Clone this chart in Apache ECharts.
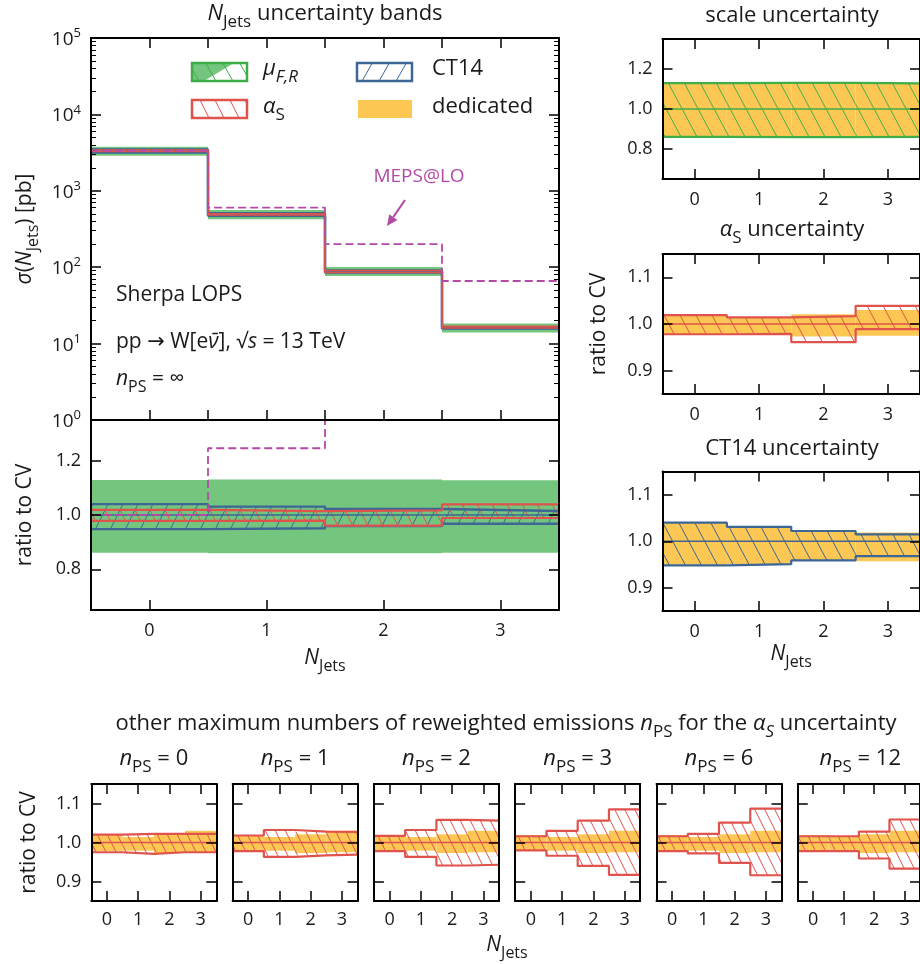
<!DOCTYPE html>
<html>
<head>
<meta charset="utf-8">
<script src="https://cdn.jsdelivr.net/npm/echarts@6/dist/echarts.min.js"></script>
<style>
  html, body { margin: 0; padding: 0; background: #fff; }
  #chart { width: 920px; height: 964px; }
</style>
</head>
<body>
<div id="chart"></div>
<script>
// ---- data ----
var nJets = [0, 1, 2, 3];
var binEdges = [-0.5, 0.5, 1.5, 2.5, 3.5];

// cross sections [pb]
var xsecCV = [3350, 494, 89, 16.2];
var xsecMEPS = [3350, 604, 200, 66];

// ratios to CV (n_PS = infinity)
var scaleUp = [1.129, 1.131, 1.131, 1.128];
var scaleDn = [0.861, 0.859, 0.859, 0.861];
var alphaUp = [1.019, 1.014, 1.017, 1.039];
var alphaDn = [0.978, 0.979, 0.961, 0.989];
var ct14Up = [1.040, 1.031, 1.022, 1.015];
var ct14Dn = [0.948, 0.951, 0.959, 0.968];
var mepsRatio = [1.0, 1.246, 2.25, 4.1];

// dedicated variations
var dedScaleUp = [1.129, 1.131, 1.131, 1.128];
var dedScaleDn = [0.861, 0.859, 0.859, 0.861];
var dedAlphaUp = [1.019, 1.014, 1.021, 1.030];
var dedAlphaDn = [0.978, 0.979, 0.973, 0.975];
var dedCt14Up = [1.040, 1.031, 1.022, 1.019];
var dedCt14Dn = [0.948, 0.951, 0.959, 0.957];

// alpha_S bands for other n_PS
var nPSValues = ['0', '1', '2', '3', '6', '12'];
var alphaUpNPS0 = [1.020, 1.022, 1.022, 1.022];
var alphaDnNPS0 = [0.975, 0.971, 0.975, 0.975];
var alphaUpNPS1 = [1.018, 1.032, 1.028, 1.027];
var alphaDnNPS1 = [0.978, 0.963, 0.967, 0.969];
var alphaUpNPS2 = [1.017, 1.032, 1.058, 1.056];
var alphaDnNPS2 = [0.978, 0.963, 0.941, 0.943];
var alphaUpNPS3 = [1.016, 1.030, 1.056, 1.085];
var alphaDnNPS3 = [0.980, 0.966, 0.940, 0.917];
var alphaUpNPS6 = [1.016, 1.022, 1.051, 1.087];
var alphaDnNPS6 = [0.978, 0.972, 0.948, 0.916];
var alphaUpNPS12 = [1.016, 1.016, 1.028, 1.059];
var alphaDnNPS12 = [0.978, 0.978, 0.959, 0.933];

// tick labels
var ratioTicksWide = [0.8, 1.0, 1.2];
var ratioTicksNarrow = [0.9, 1.0, 1.1];

// ---- style ----
var FONT = '"Open Sans", "DejaVu Sans", sans-serif';
var TXT = '#1a1a1a';
var GREEN = '#3fae49', GREEN_FILL = '#74c67f', RED = '#e0524c', BLUE = '#3d6596';
var YELLOW = '#fcc853', PURPLE = '#b34aa5';
var TICK_FS = 18;

function hatch(color, w, h, dir) {
  var c = document.createElement('canvas');
  c.width = w; c.height = h;
  var ctx = c.getContext('2d');
  ctx.strokeStyle = color;
  ctx.lineWidth = 1;
  for (var k = -1; k <= 1; k++) {
    ctx.beginPath();
    if (dir === '\\') { ctx.moveTo(k * w, 0); ctx.lineTo(k * w + w, h); }
    else { ctx.moveTo(k * w, h); ctx.lineTo(k * w + w, 0); }
    ctx.stroke();
  }
  return { image: c, repeat: 'repeat' };
}

function rich(fs, color) {
  color = color || TXT;
  var up = Math.round(fs * 0.25);
  var sfs = Math.round(fs * 0.76);
  return {
    n: { fontFamily: FONT, fontSize: fs, color: color, padding: [0, 0, up, 0], verticalAlign: 'bottom' },
    i: { fontFamily: FONT, fontSize: fs, fontStyle: 'italic', color: color, padding: [0, 0, up, 0], verticalAlign: 'bottom' },
    sub: { fontFamily: FONT, fontSize: sfs, color: color, verticalAlign: 'bottom' },
    subi: { fontFamily: FONT, fontSize: sfs, fontStyle: 'italic', color: color, verticalAlign: 'bottom' }
  };
}

// ---- grids ----
var grids = [
  { left: 91, top: 38, width: 468, height: 382 },       // 0 cross section
  { left: 91, top: 420, width: 468, height: 190 },      // 1 ratio
  { left: 662.5, top: 39, width: 260, height: 140 },    // 2 scale
  { left: 662.5, top: 254, width: 260, height: 140 },   // 3 alpha_S
  { left: 662.5, top: 471.5, width: 260, height: 139.5 } // 4 CT14
];
for (var k = 0; k < 6; k++) {
  grids.push({ left: 91.3 + k * 141.3, top: 784, width: 125, height: 117 });
}

var xAxes = [], yAxes = [], series = [];

function axisBase(gi, pos) {
  return {
    gridIndex: gi, position: pos, z: 10,
    axisLine: { show: true, onZero: false, lineStyle: { color: '#000', width: 2 } },
    axisTick: { show: true, inside: true, length: 10, lineStyle: { color: '#000', width: 1.5 } },
    axisLabel: { show: false, fontFamily: FONT, fontSize: TICK_FS, color: TXT },
    splitLine: { show: false }
  };
}

function addAxes(gi, o) {
  ['bottom', 'top'].forEach(function (pos) {
    var a = axisBase(gi, pos);
    a.type = 'value'; a.min = -0.5; a.max = 3.5;
    if (o.halfTicks) {
      a.interval = 0.5;
    } else {
      a.axisTick.customValues = nJets;
      a.axisLabel.customValues = nJets;
    }
    if (pos === 'top' && o.noTopTicks) a.axisTick.show = false;
    if (pos === 'bottom' && o.xLabels) { a.axisLabel.show = true; a.axisLabel.margin = o.xMargin || 12; }
    if (pos === 'bottom' && o.xName) {
      a.name = '{i|N}{sub|Jets}';
      a.nameLocation = 'middle';
      a.nameGap = o.xNameGap;
      a.nameTextStyle = { rich: rich(21) };
    }
    xAxes.push(a);
  });
  ['left', 'right'].forEach(function (pos) {
    var a = axisBase(gi, pos);
    a.min = o.yMin; a.max = o.yMax;
    if (o.log) {
      a.type = 'log'; a.logBase = 10; a.splitNumber = 5;
      a.minorTick = { show: true, splitNumber: 9, length: 5, lineStyle: { color: '#000', width: 1 } };
      a.axisLabel.formatter = function (v) { return '{b|10}{s|' + Math.round(Math.log10(v)) + '}'; };
      a.axisLabel.rich = {
        b: { fontFamily: FONT, fontSize: 19, color: TXT, verticalAlign: 'bottom' },
        s: { fontFamily: FONT, fontSize: 13, color: TXT, padding: [0, 0, 9, 0], verticalAlign: 'bottom' }
      };
    } else {
      a.type = 'value';
      a.axisTick.customValues = o.yTicks;
      a.axisLabel.customValues = o.yTicks;
      a.axisLabel.formatter = function (v) { return v.toFixed(1); };
    }
    if (pos === 'left' && o.yLabels) { a.axisLabel.show = true; a.axisLabel.margin = 10; }
    if (pos === 'left' && o.yName) {
      a.name = o.yName;
      a.nameLocation = 'middle';
      a.nameGap = o.yNameGap;
      a.nameTextStyle = { fontFamily: FONT, fontSize: 21, color: TXT, rich: rich(21) };
    }
    yAxes.push(a);
  });
}

addAxes(0, { halfTicks: true, log: true, yMin: 1, yMax: 100000, yLabels: true,
  yName: '{i|σ}{n|(}{i|N}{sub|Jets}{n|) [pb]}', yNameGap: 50 });
addAxes(1, { noTopTicks: true, xLabels: true, xName: true, xNameGap: 38, yMin: 0.65, yMax: 1.35,
  yTicks: ratioTicksWide, yLabels: true, yName: '{n|ratio to CV}', yNameGap: 50 });
addAxes(2, { xLabels: true, yMin: 0.65, yMax: 1.35, yTicks: ratioTicksWide, yLabels: true });
addAxes(3, { xLabels: true, yMin: 0.85, yMax: 1.15, yTicks: ratioTicksNarrow, yLabels: true,
  yName: '{n|ratio to CV}', yNameGap: 48 });
addAxes(4, { xLabels: true, xName: true, xNameGap: 33, yMin: 0.85, yMax: 1.15, yTicks: ratioTicksNarrow, yLabels: true });
for (var k = 0; k < 6; k++) {
  addAxes(5 + k, { xLabels: true, xMargin: 10, yMin: 0.85, yMax: 1.15, yTicks: ratioTicksNarrow, yLabels: k === 0,
    yName: k === 0 ? '{n|ratio to CV}' : null, yNameGap: 47 });
}

// ---- series builders ----
function bandSeries(gi, up, dn, fill, base) {
  return {
    type: 'custom', xAxisIndex: 2 * gi, yAxisIndex: 2 * gi, silent: true, clip: true,
    data: nJets.map(function (x, i) {
      var b = base ? base[i] : 1;
      return [x, dn[i] * b, up[i] * b];
    }),
    renderItem: function (params, api) {
      var x = api.value(0);
      var p1 = api.coord([x - 0.5, api.value(2)]);
      var p2 = api.coord([x + 0.5, api.value(1)]);
      return {
        type: 'rect',
        shape: { x: p1[0], y: p1[1], width: p2[0] - p1[0], height: p2[1] - p1[1] },
        style: { fill: fill, stroke: null }
      };
    }
  };
}

function stepSeries(gi, vals, color, width, base, dash) {
  return {
    type: 'line', xAxisIndex: 2 * gi, yAxisIndex: 2 * gi, step: 'end', symbol: 'none', silent: true,
    data: binEdges.map(function (e, i) {
      var j = Math.min(i, vals.length - 1);
      return [e, vals[j] * (base ? base[j] : 1)];
    }),
    lineStyle: { color: color, width: width, type: dash ? [8, 4] : 'solid' }
  };
}

function ratioBandSet(gi, up, dn, color, pattern, ownUp, ownDn) {
  series.push(bandSeries(gi, ownUp, ownDn, YELLOW));
  series.push(bandSeries(gi, up, dn, pattern));
  series.push(stepSeries(gi, up, color, 2.2));
  series.push(stepSeries(gi, dn, color, 2.2));
  series.push(stepSeries(gi, [1, 1, 1, 1], color, 1.5));
}

// cross-section panel
series.push(bandSeries(0, scaleUp, scaleDn, GREEN_FILL, xsecCV));
series.push(bandSeries(0, ct14Up, ct14Dn, hatch(BLUE, 15, 30, '/'), xsecCV));
series.push(bandSeries(0, alphaUp, alphaDn, hatch(RED, 15, 30, '\\'), xsecCV));
series.push(stepSeries(0, ct14Up, BLUE, 2.4, xsecCV));
series.push(stepSeries(0, ct14Dn, BLUE, 2.4, xsecCV));
series.push(stepSeries(0, alphaUp, RED, 1.5, xsecCV));
series.push(stepSeries(0, alphaDn, RED, 1.5, xsecCV));
series.push(stepSeries(0, xsecMEPS, PURPLE, 1.8, null, true));

// ratio panel
series.push(bandSeries(1, scaleUp, scaleDn, GREEN_FILL));
series.push(bandSeries(1, ct14Up, ct14Dn, hatch(BLUE, 15, 30, '/')));
series.push(bandSeries(1, alphaUp, alphaDn, hatch(RED, 15, 30, '\\')));
series.push(stepSeries(1, ct14Up, BLUE, 2.4));
series.push(stepSeries(1, ct14Dn, BLUE, 2.4));
series.push(stepSeries(1, alphaUp, RED, 2.2));
series.push(stepSeries(1, alphaDn, RED, 2.2));
series.push(stepSeries(1, [1, 1, 1, 1], BLUE, 1.5));
series.push(stepSeries(1, mepsRatio, PURPLE, 1.8, null, true));

// right column
ratioBandSet(2, scaleUp, scaleDn, GREEN, hatch(GREEN, 16, 30, '\\'), dedScaleUp, dedScaleDn);
ratioBandSet(3, alphaUp, alphaDn, RED, hatch(RED, 16, 30, '\\'), dedAlphaUp, dedAlphaDn);
ratioBandSet(4, ct14Up, ct14Dn, BLUE, hatch(BLUE, 16, 30, '\\'), dedCt14Up, dedCt14Dn);

// other n_PS
var nPSUp = [alphaUpNPS0, alphaUpNPS1, alphaUpNPS2, alphaUpNPS3, alphaUpNPS6, alphaUpNPS12];
var nPSDn = [alphaDnNPS0, alphaDnNPS1, alphaDnNPS2, alphaDnNPS3, alphaDnNPS6, alphaDnNPS12];
for (var k = 0; k < 6; k++) {
  ratioBandSet(5 + k, nPSUp[k], nPSDn[k], RED, hatch(RED, 10, 20, '\\'), dedAlphaUp, dedAlphaDn);
}

// ---- texts and legend ----
function txt(x, y, text, fs, align, color) {
  return {
    type: 'text', x: x, y: y, z: 20, silent: true,
    style: {
      text: text, rich: rich(fs, color), fontFamily: FONT, fontSize: fs, fill: color || TXT,
      align: align || 'center', textAlign: align || 'center', verticalAlign: 'middle', textVerticalAlign: 'middle'
    }
  };
}

var graphics = [
  txt(325, 17, '{i|N}{sub|Jets}{n| uncertainty bands}', 22),
  txt(792, 19, '{n|scale uncertainty}', 22),
  txt(792, 233, '{i|α}{sub|S}{n| uncertainty}', 22),
  txt(792, 452, '{n|CT14 uncertainty}', 22),
  txt(506, 727, '{n|other maximum numbers of reweighted emissions }{i|n}{sub|PS}{n| for the }{i|α}{subi|S}{n| uncertainty}', 22),
  txt(507, 948, '{i|N}{sub|Jets}', 21),
  txt(116, 298, '{n|Sherpa LOPS}', 21, 'left'),
  txt(116, 345, '{n|pp → W[e}{i|ν̄}{n|], √}{i|s}{n| = 13 TeV}', 21, 'left'),
  txt(116, 382, '{i|n}{sub|PS}{n| = ∞}', 21, 'left'),
  txt(419, 179, '{n|MEPS@LO}', 19, 'center', PURPLE),
  // legend
  txt(263, 72, '{i|μ}{subi|F,R}', 22, 'left'),
  txt(432, 72, '{n|CT14}', 22, 'left'),
  txt(263, 110, '{i|α}{sub|S}', 22, 'left'),
  txt(432, 110, '{n|dedicated}', 22, 'left'),
  { type: 'polygon', z: 20, silent: true, shape: { points: [[192, 63], [234, 63], [204, 81], [192, 81]] }, style: { fill: GREEN_FILL } },
  { type: 'rect', z: 21, silent: true, shape: { x: 192, y: 63, width: 55, height: 18 }, style: { fill: hatch(GREEN, 17, 30, '\\'), stroke: GREEN, lineWidth: 2.5 } },
  { type: 'rect', z: 21, silent: true, shape: { x: 357, y: 63, width: 55, height: 18 }, style: { fill: hatch(BLUE, 17, 30, '/'), stroke: BLUE, lineWidth: 2.5 } },
  { type: 'rect', z: 21, silent: true, shape: { x: 192, y: 100, width: 55, height: 18 }, style: { fill: hatch(RED, 15, 30, '\\'), stroke: RED, lineWidth: 2.5 } },
  { type: 'rect', z: 21, silent: true, shape: { x: 358, y: 100, width: 54, height: 18 }, style: { fill: YELLOW } },
  // MEPS arrow
  { type: 'line', z: 20, silent: true, shape: { x1: 405, y1: 200, x2: 393.3, y2: 217 }, style: { stroke: PURPLE, lineWidth: 2.2 } },
  { type: 'polygon', z: 20, silent: true, shape: { points: [[387, 226], [397.4, 219.9], [389.2, 214.2]] }, style: { fill: PURPLE } }
];
for (var k = 0; k < 6; k++) {
  graphics.push(txt(grids[5 + k].left + 62.5, 762, '{i|n}{sub|PS}{n| = ' + nPSValues[k] + '}', 22));
}

var option = {
  animation: false,
  backgroundColor: '#fff',
  grid: grids,
  xAxis: xAxes,
  yAxis: yAxes,
  series: series,
  graphic: graphics
};

var chart = echarts.init(document.getElementById('chart'));
chart.setOption(option);
</script>
</body>
</html>
